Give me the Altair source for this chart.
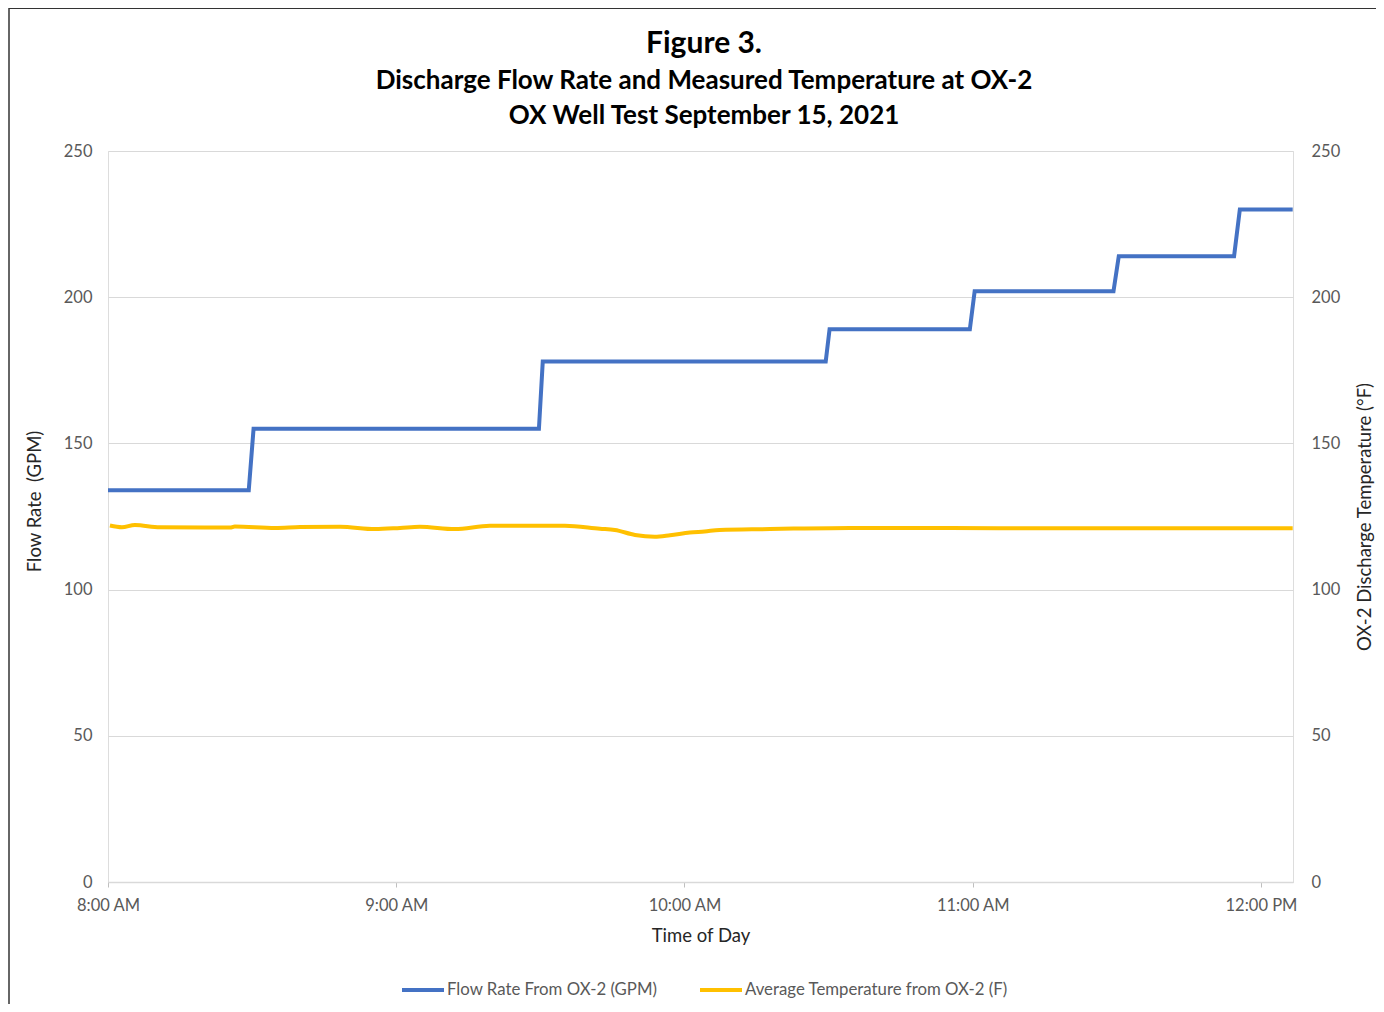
import altair as alt
import pandas as pd

# ---- data ----
flow_minutes = [0, 29.3, 30.3, 89.7, 90.5, 149.4, 150.2, 179.4, 180.4, 209.3, 210.4, 234.4, 235.6, 246.6]
flow_gpm = [134, 134, 155, 155, 178, 178, 189, 189, 202, 202, 214, 214, 230, 230]

temp_minutes = [0.4, 2.9, 5.6, 10.8, 25.4, 26.4, 34.8, 40, 48.3, 55.6, 60.8, 64.9, 72.2, 79.5,
                87.8, 95.1, 102.4, 105.5, 109.7, 113.8, 117, 121.1, 124.2, 127.3, 137.8, 144,
                154.4, 164.8, 185.6, 206.4, 227.3, 246.6]
temp_f = [121.9, 121.3, 122.1, 121.3, 121.2, 121.6, 121.1, 121.4, 121.5, 120.7, 121.1, 121.5,
          120.7, 121.8, 121.8, 121.8, 120.8, 120.4, 118.7, 118.1, 118.6, 119.5, 119.9, 120.4,
          120.7, 120.9, 121.1, 121.1, 121.0, 121.0, 121.0, 121.0]

series_names = ["Flow Rate From OX-2 (GPM)", "Average Temperature from OX-2 (F)"]
series_colors = ["#4472C4", "#FFC000"]
y_ticks = [0, 50, 100, 150, 200, 250]

title_lines = ["Figure 3.",
               "Discharge Flow Rate and Measured Temperature at OX-2",
               "OX Well Test September 15, 2021"]

start = pd.Timestamp("2021-09-15 08:00:00")
flow_df = pd.DataFrame({
    "time": [start + pd.Timedelta(minutes=m) for m in flow_minutes],
    "value": flow_gpm,
    "series": series_names[0],
})
temp_df = pd.DataFrame({
    "time": [start + pd.Timedelta(minutes=m) for m in temp_minutes],
    "value": temp_f,
    "series": series_names[1],
})

FONT = "Lato"
LABEL_COLOR = "#595959"
TITLE_COLOR = "#262626"

x_enc = alt.X(
    "time:T",
    title="Time of Day",
    scale=alt.Scale(domain=[
        alt.DateTime(year=2021, month=9, date=15, hours=8),
        alt.DateTime(year=2021, month=9, date=15, hours=12, minutes=6, seconds=40),
    ]),
    axis=alt.Axis(
        values=[alt.DateTime(year=2021, month=9, date=15, hours=h) for h in [8, 9, 10, 11, 12]],
        format="%-I:%M %p", labelFlush=False,
        labelFont=FONT, labelFontSize=16.5, labelColor=LABEL_COLOR, labelPadding=10,
        titleFont=FONT, titleFontSize=18.5, titleFontWeight="normal", titleColor=TITLE_COLOR,
        titlePadding=13,
        domainColor="#D9D9D9", domainWidth=1.5,
        tickColor="#BFBFBF", tickSize=5, grid=False,
    ),
)

color_enc = alt.Color(
    "series:N",
    scale=alt.Scale(domain=series_names, range=series_colors),
    sort=series_names,
    legend=alt.Legend(
        title=None, orient="none", direction="horizontal",
        legendX=292, legendY=816,
        symbolType="stroke", symbolSize=1764, symbolStrokeWidth=4,
        labelFont=FONT, labelFontSize=16.8, labelColor=LABEL_COLOR,
        labelOffset=1, columnPadding=34, labelLimit=500,
    ),
)

flow = alt.Chart(flow_df).mark_line(strokeWidth=4).encode(
    x=x_enc,
    y=alt.Y(
        "value:Q", title="Flow Rate\u00a0 (GPM)",
        scale=alt.Scale(domain=[0, 250]),
        axis=alt.Axis(
            orient="left", values=y_ticks, grid=True, gridColor="#D9D9D9", gridWidth=1.2,
            domain=False, ticks=False,
            labelFont=FONT, labelFontSize=16.5, labelColor=LABEL_COLOR, labelPadding=16,
            titleFont=FONT, titleFontSize=18.5, titleFontWeight="normal", titleColor=TITLE_COLOR,
            titlePadding=19, titleY=350,
        ),
    ),
    color=color_enc,
)

temp = alt.Chart(temp_df).mark_line(strokeWidth=4, interpolate="monotone").encode(
    x=x_enc,
    y=alt.Y(
        "value:Q", title="OX-2 Discharge Temperature (°F)",
        scale=alt.Scale(domain=[0, 250]),
        axis=alt.Axis(
            orient="right", values=y_ticks, grid=False, domain=False, ticks=False,
            labelFont=FONT, labelFontSize=16.5, labelColor=LABEL_COLOR, labelPadding=18,
            titleFont=FONT, titleFontSize=18.5, titleFontWeight="normal", titleColor=TITLE_COLOR,
            titlePadding=35, titleAngle=270,
        ),
    ),
    color=color_enc,
)

one = pd.DataFrame({"k": [0]})

# chart heading as text marks (centred over the plot)
title_main = alt.Chart(one).mark_text(
    text=title_lines[0], font=FONT, fontSize=30, fontWeight="bold", color="#000000",
    align="center", baseline="middle",
).encode(x=alt.value(596), y=alt.value(-107))
title_sub1 = alt.Chart(one).mark_text(
    text=title_lines[1], font=FONT, fontSize=26, fontWeight="bold", color="#000000",
    align="center", baseline="middle",
).encode(x=alt.value(596), y=alt.value(-70))
title_sub2 = alt.Chart(one).mark_text(
    text=title_lines[2], font=FONT, fontSize=26, fontWeight="bold", color="#000000",
    align="center", baseline="middle",
).encode(x=alt.value(596), y=alt.value(-35))

# decorative frame edges (chart border of the original picture)
border_left = alt.Chart(one).mark_rule(color="#333333", strokeWidth=1.5).encode(
    x=alt.value(-99), y=alt.value(-143), y2=alt.value(870)
)
border_top = alt.Chart(one).mark_rule(color="#333333", strokeWidth=2).encode(
    x=alt.value(-99), x2=alt.value(1280), y=alt.value(-143)
)

chart = alt.layer(
    flow, temp, title_main, title_sub1, title_sub2, border_left, border_top
).resolve_scale(
    y="independent"
).properties(
    width=1185,
    height=731,
    autosize=alt.AutoSizeParams(type="none"),
    padding={"left": 100, "top": 143, "right": 83, "bottom": 122},
).configure_view(stroke=None).configure(background="white")

chart.save("out.html", embed_options={"renderer": "svg", "actions": False})
